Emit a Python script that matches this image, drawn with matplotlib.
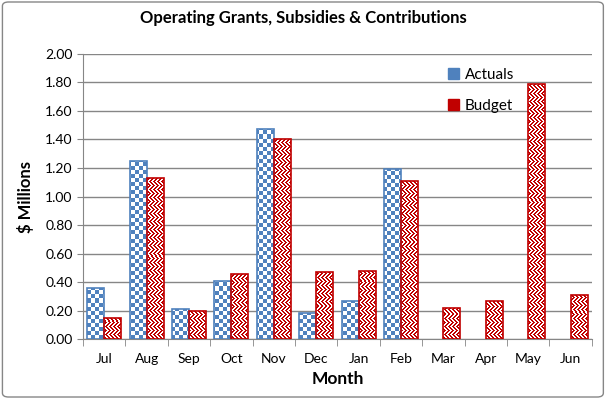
import numpy as np
import matplotlib
matplotlib.use('Agg')
import matplotlib.pyplot as plt
from matplotlib.patches import Patch, FancyBboxPatch

plt.rcParams['font.family'] = ['Lato', 'DejaVu Sans']

# Дані
months = ['Jul', 'Aug', 'Sep', 'Oct', 'Nov', 'Dec', 'Jan', 'Feb', 'Mar', 'Apr', 'May', 'Jun']
actuals = [0.36, 1.25, 0.21, 0.41, 1.47, 0.18, 0.27, 1.19]
budget = [0.15, 1.13, 0.20, 0.46, 1.40, 0.47, 0.48, 1.11, 0.22, 0.27, 1.79, 0.31]

blue = '#4F81BD'
red = '#C00000'


def rgb(c):
    return np.array(matplotlib.colors.to_rgb(c))


# Текстури: шахівниця (синя) та зигзаг (червоний)
H, W = 285, 509
yy, xx = np.mgrid[0:H, 0:W]
checker = ((xx // 4 + yy // 4) % 2 == 0)
img_blue = np.ones((H, W, 3))
img_blue[checker] = rgb(blue)

band = (yy // 4) % 2
zig = np.where(band == 0, (xx + yy) % 4 < 2, (xx - yy) % 4 < 2)
img_red = np.tile(rgb(red), (H, W, 1))
img_red[zig] = [1, 1, 1]

fig = plt.figure(figsize=(6.07, 3.99), dpi=100)
ax = fig.add_axes([0.1367, 0.150, 0.8383, 0.715])

x = np.arange(len(months))
w = 0.4
bars_a = ax.bar(x[:len(actuals)] - w / 2, actuals, width=w, facecolor='none',
                edgecolor=blue, linewidth=1.2, zorder=3)
bars_b = ax.bar(x + w / 2, budget, width=w, facecolor='none',
                edgecolor=red, linewidth=1.2, zorder=3)

extent = (-0.5, 11.5, 0, 2)
for bars, img in [(bars_a, img_blue), (bars_b, img_red)]:
    for b in bars:
        im = ax.imshow(img, extent=extent, aspect='auto', interpolation='nearest',
                       origin='lower', zorder=2)
        im.set_clip_path(b)

ax.set_xlim(-0.5, 11.5)
ax.set_ylim(0, 2.0)
ax.set_yticks(np.arange(0, 2.01, 0.2))
ax.set_yticklabels([f'{v:.2f}' for v in np.arange(0, 2.01, 0.2)], fontsize=10)
ax.set_xticks(x)
ax.set_xticklabels(months, fontsize=10)
ax.set_xticks(np.arange(-0.5, 12, 1), minor=True)
ax.tick_params(axis='x', which='major', length=0, pad=10)
ax.tick_params(axis='x', which='minor', length=5, color='#868686', direction='out')
ax.tick_params(axis='y', length=4, color='#868686', direction='out')
ax.grid(axis='y', color='#868686', linewidth=1, zorder=0)
ax.set_axisbelow(True)
for s in ['top', 'right']:
    ax.spines[s].set_visible(False)
for s in ['left', 'bottom']:
    ax.spines[s].set_color('#868686')

ax.set_ylabel('$ Millions', fontsize=12, fontweight='bold', labelpad=8)
ax.set_xlabel('Month', fontsize=12.5, fontweight='bold', labelpad=4)
fig.suptitle('Operating Grants, Subsidies & Contributions', fontsize=12,
             fontweight='bold', y=0.975)

handles = [Patch(facecolor=blue, edgecolor=blue), Patch(facecolor=red, edgecolor=red)]
ax.legend(handles, ['Actuals', 'Budget'], loc='upper left', bbox_to_anchor=(0.69, 1.0),
          frameon=False, fontsize=11, handlelength=0.7, handleheight=0.7,
          handletextpad=0.4, labelspacing=1.15)

fig.patches.append(FancyBboxPatch((0.004, 0.005), 0.99, 0.99, boxstyle='round,pad=0,rounding_size=0.01',
                                  transform=fig.transFigure, facecolor='none',
                                  edgecolor='#868686', linewidth=1))

fig.savefig('out.png', dpi=100)
